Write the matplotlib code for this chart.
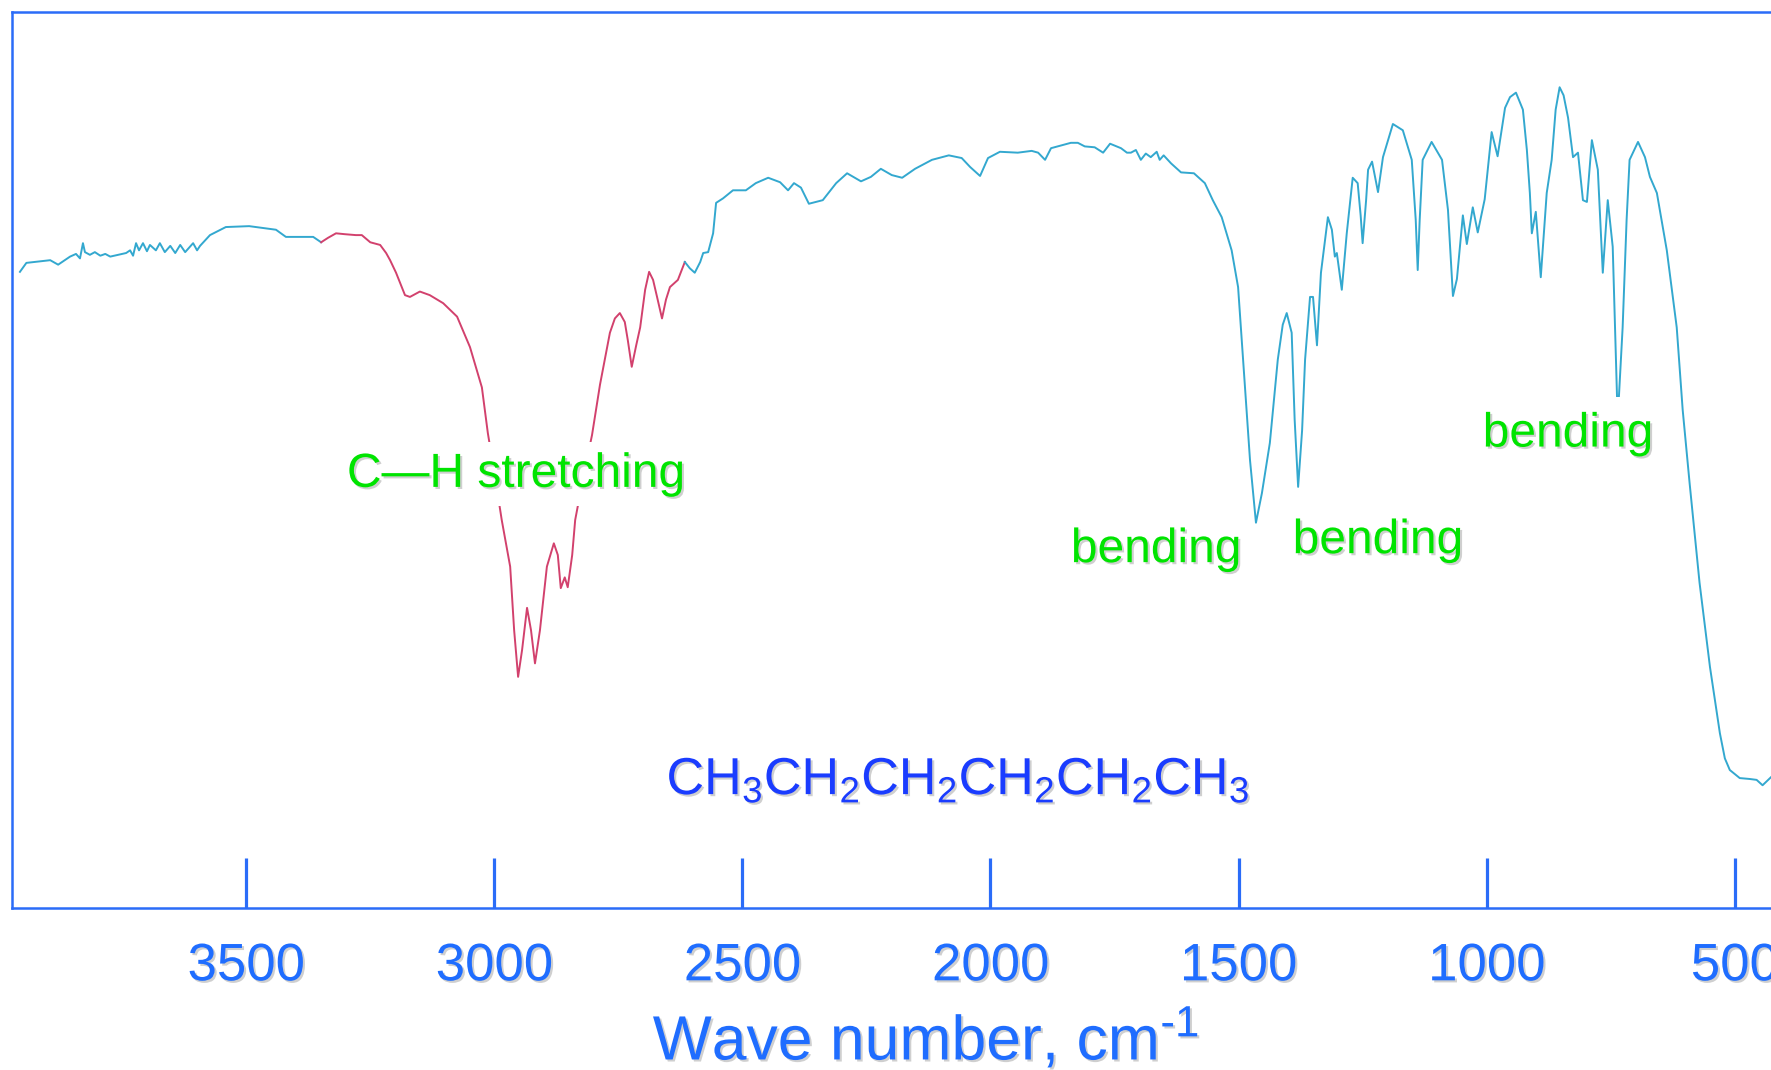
import numpy as np
import matplotlib
matplotlib.use("Agg")
import matplotlib.pyplot as plt
import matplotlib.patheffects as pe

plt.rcParams['font.family'] = ['Liberation Sans', 'DejaVu Sans']
plt.rcParams['mathtext.fontset'] = 'custom'
plt.rcParams['mathtext.rm'] = 'Liberation Sans'
plt.rcParams['mathtext.default'] = 'regular'

# IR spectrum of hexane (wave number in cm-1, transmittance in %)
wavenumber = [
    3956, 3943, 3895, 3879, 3855, 3843, 3835, 3829, 3825, 3815, 3805, 3794, 3784, 3774,
    3758, 3742, 3734, 3728, 3722, 3716, 3708, 3700, 3694, 3682, 3674, 3664, 3653, 3643,
    3633, 3623, 3607, 3599, 3593, 3573, 3541, 3494, 3440, 3420, 3365, 3349,
    3335, 3319, 3301, 3279, 3267, 3250, 3230, 3218, 3210, 3198, 3180, 3170, 3150, 3130,
    3103, 3075, 3049, 3025, 3013, 2999, 2985, 2968, 2960, 2952, 2944, 2934, 2926, 2918,
    2908, 2894, 2880, 2872, 2866, 2858, 2852, 2843, 2837, 2821, 2803, 2787, 2767, 2757,
    2747, 2737, 2731, 2723, 2714, 2706, 2696, 2688, 2680, 2672, 2662, 2654, 2646, 2630,
    2616,
    2606, 2596, 2585, 2579, 2569, 2559, 2553, 2539, 2519, 2493, 2473, 2448, 2424, 2408,
    2396, 2382, 2366, 2352, 2338, 2311, 2289, 2261, 2241, 2221, 2199, 2178, 2152, 2118,
    2084, 2058, 2041, 2021, 2005, 1981, 1945, 1917, 1904, 1890, 1878, 1838, 1824, 1810,
    1790, 1773, 1759, 1737, 1725, 1717, 1707, 1697, 1687, 1677, 1665, 1659, 1651, 1636,
    1616, 1590, 1568, 1552, 1534, 1514, 1501, 1491, 1477, 1465, 1453, 1437, 1421, 1411,
    1403, 1393, 1387, 1380, 1372, 1366, 1356, 1350, 1342, 1334, 1320, 1312, 1306, 1302,
    1292, 1282, 1270, 1260, 1254, 1250, 1243, 1239, 1231, 1219, 1209, 1189, 1169, 1151,
    1143, 1139, 1135, 1129, 1111, 1090, 1078, 1068, 1060, 1048, 1040, 1028, 1018, 1004,
    990, 978, 963, 953, 941, 927, 919, 913, 909, 901, 891, 879, 869, 861,
    853, 845, 836, 826, 816, 806, 798, 788, 776, 766, 756, 746, 736, 726,
    718, 712, 695, 681, 671, 657, 637, 617, 605, 591, 571, 550, 530, 520,
    510, 490, 470, 456, 444, 427,
]
transmittance = [
    71.0, 72.0, 72.3, 71.8, 72.7, 73.0, 72.5, 74.2, 73.2, 72.9, 73.2, 72.8, 73.0, 72.7,
    72.9, 73.1, 73.4, 72.8, 74.2, 73.4, 74.2, 73.3, 74.0, 73.4, 74.2, 73.2, 73.9, 73.1,
    74.0, 73.2, 74.2, 73.4, 73.9, 75.1, 76.0, 76.1, 75.7, 74.9, 74.9, 74.3,
    74.8, 75.3, 75.2, 75.1, 75.1, 74.3, 74.0, 73.1, 72.3, 70.9, 68.4, 68.2, 68.8, 68.4,
    67.5, 66.0, 62.6, 58.1, 53.0, 48.3, 43.3, 38.1, 31.0, 25.8, 28.8, 33.5, 31.0, 27.3,
    31.0, 38.1, 40.7, 39.4, 35.7, 36.9, 35.8, 39.4, 43.3, 48.0, 52.8, 58.4, 64.2, 65.8,
    66.4, 65.4, 63.4, 60.4, 62.8, 64.8, 69.0, 71.0, 70.1, 68.2, 65.8, 67.9, 69.3, 70.1,
    72.1,
    71.4, 70.9, 72.1, 73.1, 73.2, 75.3, 78.7, 79.2, 80.1, 80.1, 80.9, 81.5, 81.0, 80.1,
    80.9, 80.4, 78.6, 78.8, 79.0, 80.9, 82.0, 81.1, 81.6, 82.5, 81.8, 81.5, 82.5, 83.5,
    84.0, 83.7, 82.7, 81.7, 83.7, 84.4, 84.3, 84.5, 84.3, 83.5, 84.8, 85.4, 85.4, 85.0,
    84.9, 84.3, 85.3, 84.8, 84.3, 84.3, 84.6, 83.5, 84.2, 83.8, 84.4, 83.5, 84.0, 83.1,
    82.1, 82.0, 80.9, 79.0, 77.1, 73.4, 69.3, 61.2, 50.0, 43.0, 46.3, 51.9, 61.2, 65.1,
    66.4, 64.2, 54.5, 47.0, 53.3, 61.2, 68.2, 68.2, 62.8, 70.9, 77.1, 75.7, 72.7, 73.1,
    69.0, 75.3, 81.5, 80.9, 77.3, 74.2, 79.0, 82.4, 83.3, 79.9, 83.8, 87.5, 86.8, 83.5,
    76.8, 71.2, 76.8, 83.5, 85.5, 83.5, 77.9, 68.3, 70.2, 77.3, 74.1, 78.2, 75.4, 79.1,
    86.6, 83.9, 89.3, 90.5, 91.0, 89.1, 84.6, 79.8, 75.3, 77.7, 70.4, 79.8, 83.5, 89.1,
    91.6, 90.7, 88.2, 83.8, 84.3, 79.0, 78.8, 85.7, 82.4, 70.9, 79.0, 73.8, 54.5, 64.8,
    76.8, 83.5, 85.5, 83.8, 81.6, 79.8, 73.4, 64.8, 55.6, 47.4, 36.3, 26.9, 19.5, 16.7,
    15.4, 14.5, 14.4, 14.3, 13.7, 14.6,
]
# C-H stretching region drawn in red
stretch_range = (3349, 2616)

tick_values = [3500, 3000, 2500, 2000, 1500, 1000, 500]

frame_blue = '#2a6cf8'
label_blue = '#1f6dff'
formula_blue = '#1a3cff'
green = '#00e400'
line_blue = '#33a8cf'
line_red = '#d2416d'

shadow = [pe.withSimplePatchShadow(offset=(1.5, -1.5), shadow_rgbFace='#b0b0b0', alpha=0.6)]

W, H = 1771, 1070
fig = plt.figure(figsize=(W / 100, H / 100), dpi=100)
ax = fig.add_axes([11.5 / W, (H - 908) / H, (W - 11.5) / W, 896 / H])

wn = np.array(wavenumber)
tr = np.array(transmittance)
hi, lo = stretch_range
left = wn >= hi
mid = (wn <= hi) & (wn >= lo)
right = wn <= lo
ax.plot(wn[left], tr[left], color=line_blue, lw=1.4, zorder=2)
ax.plot(wn[mid], tr[mid], color=line_red, lw=1.4, zorder=2)
ax.plot(wn[right], tr[right], color=line_blue, lw=1.4, zorder=2)

ax.set_xlim(3973, 427)
ax.set_ylim(0, 100)
ax.set_yticks([])
ax.set_xticks(tick_values)
ax.set_xticklabels([str(v) for v in tick_values])
ax.tick_params(axis='x', direction='in', length=36, width=2.3, color=frame_blue,
               labelsize=38, labelcolor=label_blue, pad=24)
for lbl in ax.get_xticklabels():
    lbl.set_path_effects(shadow)

for side in ['left', 'top', 'bottom']:
    ax.spines[side].set_color(frame_blue)
    ax.spines[side].set_linewidth(1.8)
ax.spines['right'].set_visible(False)

ax.set_xlabel(r'Wave number, cm$^{\text{-}1}$', fontsize=45, color=label_blue, va='baseline',
              path_effects=shadow)
ax.xaxis.set_label_coords((926 - 11.5) / (W - 11.5), -(1060 - 908) / 896)

box = dict(facecolor='white', edgecolor='none', boxstyle='square,pad=0.2')
ax.text(3297, 47.0, 'C\u2014H stretching', fontsize=34.5, color=green, va='baseline',
        ha='left', bbox=box, zorder=5, path_effects=shadow)
ax.text(1838, 38.6, 'bending', fontsize=34.5, color=green, va='baseline', ha='left',
        zorder=5, path_effects=shadow)
ax.text(1391, 39.6, 'bending', fontsize=34.5, color=green, va='baseline', ha='left',
        zorder=5, path_effects=shadow)
ax.text(1008, 51.5, 'bending', fontsize=34.5, color=green, va='baseline', ha='left',
        bbox=dict(facecolor='white', edgecolor='none', boxstyle='square,pad=0.3'),
        zorder=5, path_effects=shadow)

ax.text(2065, 12.7, 'CH$_3$CH$_2$CH$_2$CH$_2$CH$_2$CH$_3$', fontsize=37.5, color=formula_blue,
        va='baseline', ha='center', zorder=5, path_effects=shadow)

fig.savefig('out.png', dpi=100)
